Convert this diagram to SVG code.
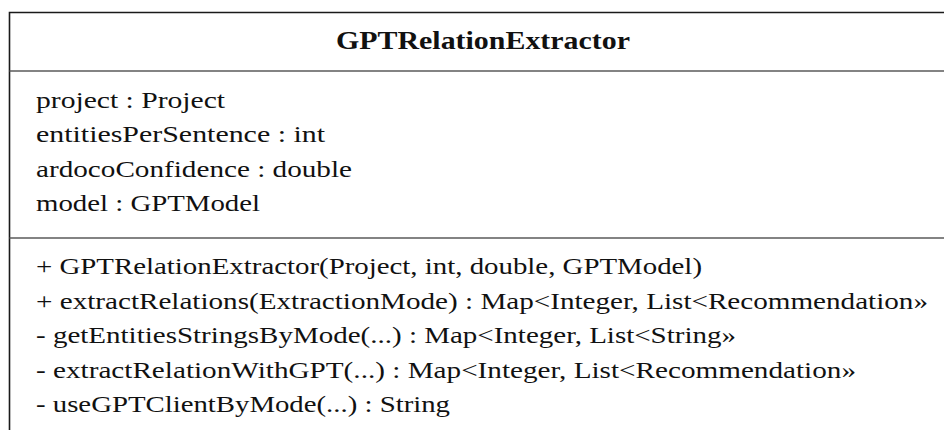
<svg xmlns="http://www.w3.org/2000/svg" width="944" height="433" viewBox="0 0 944 433">
  <style>
    .frame { fill: none; stroke: #1a1a1a; stroke-width: 1.6; }
    .divider { fill: none; stroke: #5a5a5a; stroke-width: 1.6; }
    .txt { font-family: "Liberation Serif", "DejaVu Serif", "Times New Roman", serif; font-size: 24px; fill: #111; }
    .title { font-weight: bold; font-size: 25px; }
  </style>
  <rect width="944" height="433" fill="#ffffff"/>

  <!-- UML class: GPTRelationExtractor (box continues past the right and bottom edges) -->
  <g id="GPTRelationExtractor">
    <path class="frame" d="M944 12.5 H9.5 V430"/>
    <line class="divider" x1="9.5" y1="71" x2="944" y2="71"/>
    <line class="divider" x1="9.5" y1="238" x2="944" y2="238"/>

    <text class="txt title" x="336" y="49" textLength="294" lengthAdjust="spacingAndGlyphs">GPTRelationExtractor</text>

    <!-- attributes -->
    <text class="txt" x="36" y="107.5" textLength="189" lengthAdjust="spacingAndGlyphs">project : Project</text>
    <text class="txt" x="36" y="142" textLength="289" lengthAdjust="spacingAndGlyphs">entitiesPerSentence : int</text>
    <text class="txt" x="36" y="176.5" textLength="316" lengthAdjust="spacingAndGlyphs">ardocoConfidence : double</text>
    <text class="txt" x="36" y="211" textLength="224" lengthAdjust="spacingAndGlyphs">model : GPTModel</text>

    <!-- operations -->
    <text class="txt" x="36" y="274" textLength="666" lengthAdjust="spacingAndGlyphs">+ GPTRelationExtractor(Project, int, double, GPTModel)</text>
    <text class="txt" x="36" y="308.5" textLength="892" lengthAdjust="spacingAndGlyphs">+ extractRelations(ExtractionMode) : Map&lt;Integer, List&lt;Recommendation»</text>
    <text class="txt" x="36" y="343" textLength="700" lengthAdjust="spacingAndGlyphs">- getEntitiesStringsByMode(...) : Map&lt;Integer, List&lt;String»</text>
    <text class="txt" x="36" y="377.5" textLength="820" lengthAdjust="spacingAndGlyphs">- extractRelationWithGPT(...) : Map&lt;Integer, List&lt;Recommendation»</text>
    <text class="txt" x="36" y="412" textLength="414" lengthAdjust="spacingAndGlyphs">- useGPTClientByMode(...) : String</text>
  </g>
</svg>
